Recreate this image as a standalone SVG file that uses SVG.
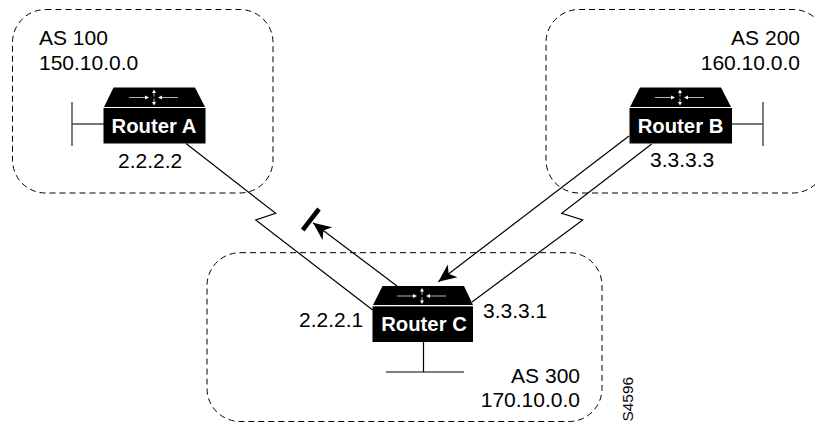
<svg xmlns="http://www.w3.org/2000/svg" xmlns:xlink="http://www.w3.org/1999/xlink" width="815" height="422" viewBox="0 0 815 422">
<style>
text{font-family:"Liberation Sans",Arial,sans-serif;fill:#000}
.t{font-size:21px}
.e{text-anchor:end}
.n{font-size:20.3px;font-weight:bold;fill:#fff;text-anchor:middle}
.as{fill:none;stroke:#000;stroke-width:1;stroke-dasharray:6 4}
.l{fill:none;stroke:#000;stroke-width:1.2}
.s{fill:none;stroke:#222;stroke-width:1.2}
.g{fill:none;stroke:#555;stroke-width:1.6}
.w{fill:none;stroke:#fff;stroke-width:.7}
.wf{fill:#fff}
</style>
<defs>
<g id="ic">
<path class="w" d="M-25 0H-8M24 0H7M0-5V-1M0 1V5"/>
<path class="wf" d="M-5 0-9-2V2ZM4 0 8-2V2ZM0-8-2-4.500H2ZM0 8-2 4.500H2Z"/>
</g>
<marker id="ah" markerUnits="userSpaceOnUse" markerWidth="22" markerHeight="20" refX="20" refY="10" orient="auto"><path d="M20 10 2 2 7 10 2 18Z" fill="#000"/></marker>
</defs>
<rect width="815" height="422" fill="#fff"/>
<g id="regions">
<rect id="as100" class="as" x="12.500" y="9.500" width="260.500" height="183.500" rx="33"/>
<rect id="as200" class="as" x="546" y="9.500" width="280" height="183.500" rx="33"/>
<rect id="as300" class="as" x="207" y="252.700" width="395" height="168.800" rx="33"/>
</g>
<g id="connectors">
<path class="l" d="M186 143.500 275.700 213.300 255.700 220 372.700 310"/>
<path class="l" d="M651.700 144 561.700 213.300 582.700 220 472 302"/>
<path class="s" d="M72 102V146"/><path class="g" d="M72 124H104"/>
<path class="s" d="M763 102V146"/><path class="g" d="M763 124H732"/>
<path class="l" d="M423.500 342V372M386 372H464"/>
<path class="l" d="M397 286 313 222.700" marker-end="url(#ah)"/>
<path class="l" d="M629 136 438.300 281.700" marker-end="url(#ah)"/>
<path d="M319 209 302.700 230" fill="none" stroke="#000" stroke-width="4.500"/>
</g>
<g id="router-a">
<path d="M113.500 87.500H195L205 107H104Z"/><rect x="103.500" y="108" width="102" height="35.500"/>
<use xlink:href="#ic" href="#ic" x="154" y="97.500"/>
<text class="n" x="154" y="133">Router A</text>
</g>
<g id="router-b">
<path d="M640 87.500H721L731 107H630Z"/><rect x="629.500" y="108" width="102.500" height="35.500"/>
<use xlink:href="#ic" href="#ic" x="680" y="97.500"/>
<text class="n" x="680.500" y="133">Router B</text>
</g>
<g id="router-c">
<path d="M382.500 286H464L473 305H373Z"/><rect x="372.500" y="306.300" width="100.500" height="35.700"/>
<use xlink:href="#ic" href="#ic" x="422" y="296"/>
<text class="n" x="424" y="331">Router C</text>
</g>
<g id="labels">
<text class="t" x="39" y="45">AS 100</text>
<text class="t" x="39" y="70">150.10.0.0</text>
<text class="t e" x="800" y="45">AS 200</text>
<text class="t e" x="800" y="70">160.10.0.0</text>
<text class="t e" x="580" y="383">AS 300</text>
<text class="t e" x="580" y="407">170.10.0.0</text>
<text class="t" x="118" y="168">2.2.2.2</text>
<text class="t" x="650" y="167">3.3.3.3</text>
<text class="t" x="299" y="327">2.2.2.1</text>
<text class="t" x="483" y="318">3.3.3.1</text>
<text transform="translate(633 421.500) rotate(-90)" font-size="15.400">S4596</text>
</g>
</svg>
